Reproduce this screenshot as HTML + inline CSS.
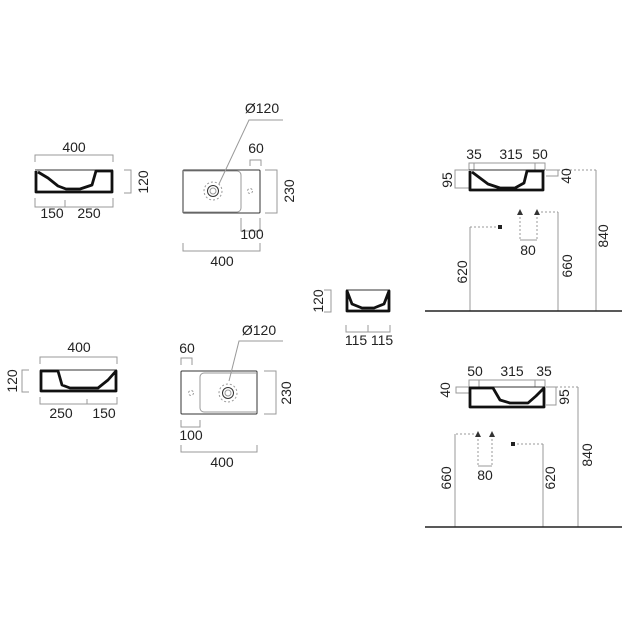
<!DOCTYPE html>
<html><head><meta charset="utf-8"><style>
html,body{margin:0;padding:0;background:#fff}
svg{display:block}
text{font-family:"Liberation Sans",sans-serif;font-size:14px;fill:#222}
.d{stroke:#999;stroke-width:1;fill:none}
.dt{stroke:#999;stroke-width:1;fill:none;stroke-dasharray:2 2}
.k{stroke:#111;stroke-width:2.8;fill:none;stroke-linejoin:round}
.t{stroke:#333;stroke-width:1;fill:none}
</style></head><body>
<svg width="630" height="630" viewBox="0 0 630 630">
<!-- TOP LEFT side view -->
<path class="d" d="M35,162V155H113V162"/>
<text x="74" y="152" text-anchor="middle">400</text>
<path class="d" d="M124,170H131V193H124"/>
<text transform="translate(148,182) rotate(-90)" text-anchor="middle">120</text>
<path class="t" d="M35,170H113"/>
<path class="k" d="M36,171V192H112V171H96L92,185L80,189H66L58,186L48,178L38,172"/>
<path class="d" d="M35,198V207H113V198M65,200V207"/>
<text x="52" y="218" text-anchor="middle">150</text>
<text x="89" y="218" text-anchor="middle">250</text>
<!-- TOP LEFT plan -->
<rect class="t" x="183" y="170" width="77" height="43" rx="1"/>
<path class="d" d="M183,171H237a4,4 0 0 1 4,4V208a4,4 0 0 1 -4,4H183"/>
<circle cx="213" cy="191" r="9" class="dt"/>
<circle cx="213" cy="191" r="5.5" class="t" stroke-width="1.5"/>
<circle cx="213" cy="191" r="3" class="d"/>
<circle cx="250" cy="191" r="2.5" class="dt"/>
<path class="d" d="M283,120H249L219,184"/>
<text x="262" y="113" text-anchor="middle">Ø120</text>
<path class="d" d="M250,166V160H261V166"/>
<text x="256" y="153" text-anchor="middle">60</text>
<path class="d" d="M265,170H277V213H265"/>
<text transform="translate(294,191) rotate(-90)" text-anchor="middle">230</text>
<path class="d" d="M241,218V231H260V218"/>
<text x="252" y="239" text-anchor="middle">100</text>
<path class="d" d="M183,243V251H260V243"/>
<text x="222" y="266" text-anchor="middle">400</text>
<!-- MIDDLE small -->
<path class="d" d="M324,290H331V312H324"/>
<text transform="translate(323,301) rotate(-90)" text-anchor="middle">120</text>
<path class="t" d="M346,290H390"/>
<path class="k" d="M347,291V311H389V291L384,304L374,308H362L352,304Z" stroke-width="2"/>
<path class="d" d="M346,325V332H390V325M368,325V332"/>
<text x="356" y="345" text-anchor="middle">115</text>
<text x="382" y="345" text-anchor="middle">115</text>
<!-- BOTTOM LEFT side -->
<path class="d" d="M40,364V357H117V364"/>
<text x="79" y="352" text-anchor="middle">400</text>
<path class="d" d="M29,370H22V392H29"/>
<text transform="translate(17,381) rotate(-90)" text-anchor="middle">120</text>
<path class="t" d="M40,370H117"/>
<path class="k" d="M41,371V391H116V371L108,380L98,388H70L62,385L58,371Z"/>
<path class="d" d="M40,397V404H117V397M87,399V404"/>
<text x="61" y="418" text-anchor="middle">250</text>
<text x="104" y="418" text-anchor="middle">150</text>
<!-- BOTTOM LEFT plan -->
<rect class="t" x="181" y="371" width="76" height="43" rx="1"/>
<path class="d" d="M257,373H204a4,4 0 0 0 -4,4V408a4,4 0 0 0 4,4H257"/>
<circle cx="228" cy="393" r="9" class="dt"/>
<circle cx="228" cy="393" r="5.5" class="t" stroke-width="1.5"/>
<circle cx="228" cy="393" r="3" class="d"/>
<circle cx="191" cy="393" r="2.5" class="dt"/>
<path class="d" d="M283,341H239L229,381"/>
<text x="259" y="335" text-anchor="middle">Ø120</text>
<path class="d" d="M181,365V358H192V365"/>
<text x="187" y="353" text-anchor="middle">60</text>
<path class="d" d="M264,371H276V414H264"/>
<text transform="translate(291,393) rotate(-90)" text-anchor="middle">230</text>
<path class="d" d="M181,420V427H200V420"/>
<text x="191" y="440" text-anchor="middle">100</text>
<path class="d" d="M181,445V452H257V445"/>
<text x="222" y="467" text-anchor="middle">400</text>
<!-- TOP RIGHT -->
<path class="d" d="M469,170V163H545V170M474,163V170M535,163V170"/>
<text x="474" y="159" text-anchor="middle">35</text>
<text x="511" y="159" text-anchor="middle">315</text>
<text x="540" y="159" text-anchor="middle">50</text>
<path class="d" d="M469,170H455V188H469"/>
<text transform="translate(452,180) rotate(-90)" text-anchor="middle">95</text>
<path class="t" d="M469,170H545"/>
<path class="k" d="M470,171V190H543V171H527L524,183L515,188H500L488,184L480,178L472,172"/>
<path class="d" d="M546,170H558V176H546"/>
<path class="dt" d="M558,170H596"/><path class="d" d="M596,170V311"/>
<text transform="translate(571,176) rotate(-90)" text-anchor="middle">40</text>
<text transform="translate(608,236) rotate(-90)" text-anchor="middle">840</text>
<path fill="#333" d="M517,215L520,209L523,215Z M534,215L537,209L540,215Z"/>
<path class="dt" d="M520,217V240M537,217V240M541,212H558"/>
<path class="d" d="M520,240H537M558,212V311"/>
<text x="528" y="255" text-anchor="middle">80</text>
<text transform="translate(572,266) rotate(-90)" text-anchor="middle">660</text>
<rect x="498" y="225" width="4" height="4" fill="#222"/>
<path class="dt" d="M496,227H470"/><path class="d" d="M470,227V311"/>
<text transform="translate(467,272) rotate(-90)" text-anchor="middle">620</text>
<path d="M425,311H622" stroke="#222" stroke-width="1.5"/>
<!-- BOTTOM RIGHT -->
<path class="d" d="M469,387V380H545V387M479,380V387M535,380V387"/>
<text x="475" y="376" text-anchor="middle">50</text>
<text x="512" y="376" text-anchor="middle">315</text>
<text x="544" y="376" text-anchor="middle">35</text>
<path class="d" d="M469,387H456V393H469"/>
<text transform="translate(450,390) rotate(-90)" text-anchor="middle">40</text>
<path class="t" d="M469,387H545"/>
<path class="k" d="M470,388V407H544V388L536,396L528,403H510L500,400L493,388Z"/>
<path class="d" d="M546,387H556V405H546"/>
<text transform="translate(569,397) rotate(-90)" text-anchor="middle">95</text>
<path class="dt" d="M556,387H578"/><path class="d" d="M578,387V527"/>
<text transform="translate(592,455) rotate(-90)" text-anchor="middle">840</text>
<path fill="#333" d="M475,437L478,431L481,437Z M489,437L492,431L495,437Z"/>
<path class="dt" d="M478,439V466M492,439V466M474,434H455"/>
<path class="d" d="M478,466H492M455,434V527"/>
<text x="485" y="480" text-anchor="middle">80</text>
<text transform="translate(451,478) rotate(-90)" text-anchor="middle">660</text>
<rect x="511" y="442" width="4" height="4" fill="#222"/>
<path class="dt" d="M517,444H543"/><path class="d" d="M543,444V527"/>
<text transform="translate(555,478) rotate(-90)" text-anchor="middle">620</text>
<path d="M425,527H622" stroke="#222" stroke-width="1.5"/>
</svg>
</body></html>
